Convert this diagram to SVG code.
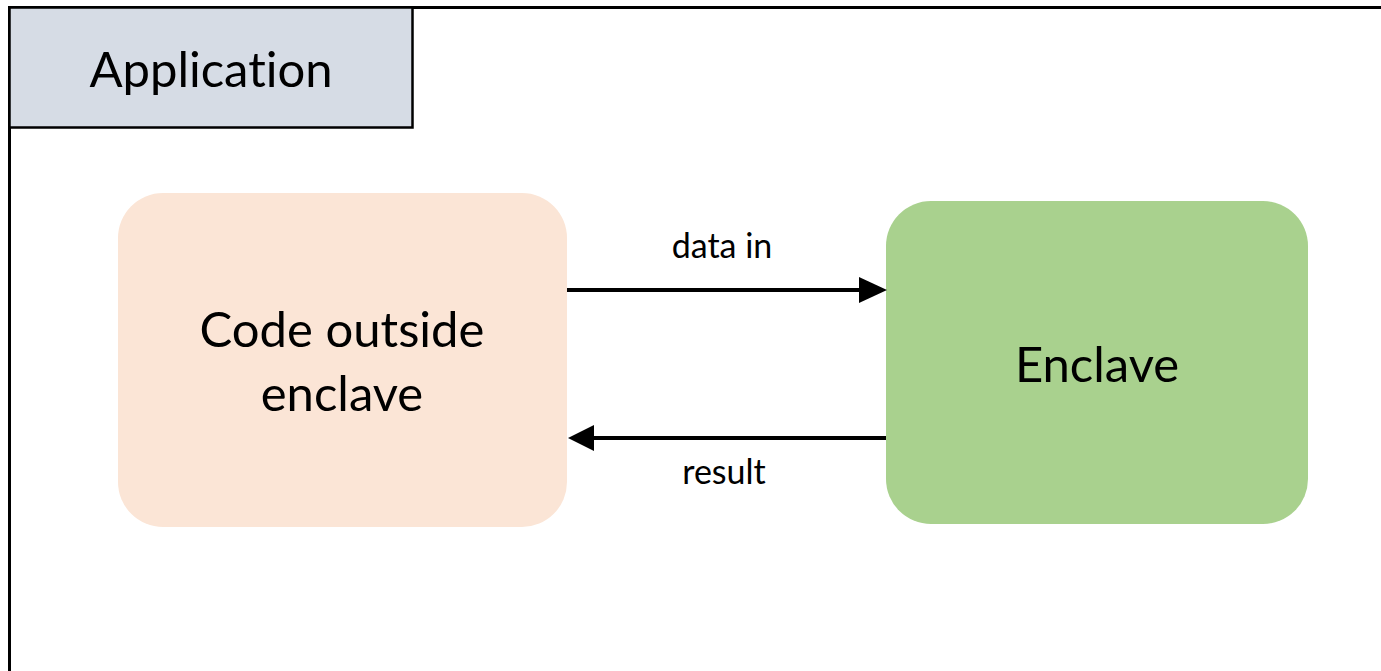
<svg xmlns="http://www.w3.org/2000/svg" width="1381" height="671" viewBox="0 0 1381 671">
<style>
.t{font-family:Lato,"Open Sans","Liberation Sans",sans-serif;fill:#000;text-anchor:middle;font-variant-ligatures:none}
.big{font-size:49px}
.lbl{font-size:34px}
.conn{stroke:#000;stroke-width:4;fill:none}
</style>
<rect width="1381" height="671" fill="#fff"/>
<g id="frame">
<path d="M9.5,680 L9.5,7.5 L1390,7.5" fill="none" stroke="#000" stroke-width="3"/>
</g>
<g id="tab">
<rect x="9.5" y="7.5" width="403" height="120" fill="#d6dce5" stroke="#000" stroke-width="2.5"/>
<text class="t big" x="211" y="87">Application</text>
</g>
<g id="outside">
<rect x="118" y="193" width="449" height="334" rx="45" fill="#fbe5d6"/>
<text class="t big" x="342" y="347">Code outside</text>
<text class="t big" x="342" y="411">enclave</text>
</g>
<g id="enclave">
<rect x="886" y="201" width="422" height="323" rx="45" fill="#a9d18e"/>
<text class="t big" x="1097" y="382">Enclave</text>
</g>
<g id="connectors">
<line class="conn" x1="567" y1="290" x2="860" y2="290"/>
<path d="M859,277 L887,290 L859,303 Z" fill="#000"/>
<line class="conn" x1="886" y1="438" x2="592" y2="438"/>
<path d="M594,425 L568,438 L594,451 Z" fill="#000"/>
<text class="t lbl" x="722" y="258">data in</text>
<text class="t lbl" x="724" y="484">result</text>
</g>
</svg>
